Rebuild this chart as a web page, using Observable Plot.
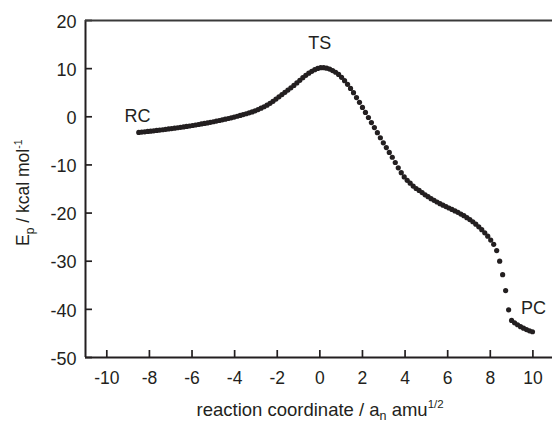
<!DOCTYPE html>
<html><head><meta charset="utf-8">
<script src="https://cdn.jsdelivr.net/npm/d3@7"></script>
<script src="https://cdn.jsdelivr.net/npm/@observablehq/plot@0.6"></script>
<style>body{margin:0;background:#fff}</style>
</head><body><div id="chart"></div>
<script>
// reaction coordinate (a_n amu^1/2)
const xs = [-8.50,-8.36,-8.22,-8.08,-7.94,-7.80,-7.66,-7.52,-7.38,-7.24,-7.10,-6.96,-6.82,-6.68,-6.54,-6.40,-6.26,-6.12,-5.98,-5.84,
-5.70,-5.56,-5.42,-5.28,-5.14,-5.00,-4.86,-4.72,-4.58,-4.44,-4.30,-4.16,-4.02,-3.88,-3.74,-3.60,-3.46,-3.32,-3.18,-3.04,
-2.90,-2.76,-2.62,-2.48,-2.34,-2.20,-2.06,-1.92,-1.78,-1.64,-1.50,-1.36,-1.22,-1.08,-0.94,-0.80,-0.66,-0.52,-0.38,-0.24,
-0.10,0.04,0.18,0.32,0.46,0.60,0.74,0.88,1.02,1.16,1.30,1.44,1.58,1.72,1.86,2.00,2.14,2.28,2.42,2.56,
2.70,2.84,2.98,3.12,3.26,3.40,3.54,3.68,3.82,3.96,4.10,4.24,4.38,4.52,4.66,4.80,4.94,5.08,5.22,5.36,
5.50,5.64,5.78,5.92,6.06,6.20,6.34,6.48,6.62,6.76,6.90,7.04,7.18,7.32,7.46,7.60,7.74,7.88,8.02,8.16,
8.30,8.44,8.58,8.72,8.86,9.00,9.14,9.28,9.42,9.56,9.70,9.84,9.98];
// potential energy Ep (kcal/mol)
const ys = [-3.25,-3.18,-3.12,-3.05,-2.98,-2.91,-2.84,-2.76,-2.69,-2.61,-2.53,-2.45,-2.37,-2.28,-2.19,-2.10,-2.01,-1.91,-1.81,-1.71,
-1.60,-1.49,-1.38,-1.27,-1.15,-1.03,-0.90,-0.77,-0.64,-0.50,-0.36,-0.21,-0.05,0.11,0.28,0.45,0.63,0.82,1.02,1.23,
1.50,1.78,2.08,2.42,2.80,3.22,3.68,4.15,4.62,5.08,5.54,6.02,6.52,7.04,7.58,8.12,8.62,9.06,9.45,9.78,
10.05,10.20,10.20,10.10,9.90,9.60,9.25,8.80,8.20,7.50,6.75,5.90,5.00,4.00,3.00,1.95,0.90,-0.15,-1.20,-2.25,
-3.30,-4.35,-5.40,-6.40,-7.40,-8.40,-9.50,-10.60,-11.60,-12.50,-13.20,-13.80,-14.40,-14.90,-15.30,-15.75,-16.20,-16.60,-17.00,-17.35,
-17.70,-18.05,-18.35,-18.65,-18.95,-19.25,-19.55,-19.85,-20.20,-20.55,-20.95,-21.35,-21.80,-22.30,-22.85,-23.45,-24.10,-24.80,-25.60,-26.50,
-27.80,-30.00,-32.80,-36.10,-40.10,-42.30,-42.80,-43.20,-43.60,-43.90,-44.20,-44.45,-44.65];

const xTicks = [-10,-8,-6,-4,-2,0,2,4,6,8,10];
const yTicks = [-50,-40,-30,-20,-10,0,10,20];
const xDomain = [-11, 10.92];
const yDomain = [-50, 20];

const labels = ["RC","TS","PC"];
const labelX = [-8.56, 0.0, 10.03];
const labelY = [0.2, 15.2, -39.8];

const points = xs.map((x, i) => ({x, y: ys[i]}));
const notes = labels.map((t, i) => ({t, x: labelX[i], y: labelY[i]}));
const ink = "#231f20";
const fmt = d => String(d);

const plot = Plot.plot({
  width: 552, height: 422,
  marginLeft: 85, marginRight: 0, marginTop: 20, marginBottom: 65,
  style: {fontFamily: "'Liberation Sans', Arial, sans-serif", background: "#fff", color: ink},
  x: {domain: xDomain},
  y: {domain: yDomain},
  marks: [
    // inward tick marks
    Plot.axisX(xTicks, {anchor: "bottom", tickSize: 7, dy: -7, fill: "none", stroke: ink, strokeWidth: 1.7, label: null}),
    Plot.axisY(yTicks, {anchor: "left", tickSize: 7, dx: 7, fill: "none", stroke: ink, strokeWidth: 1.7, label: null}),
    // tick labels
    Plot.axisX(xTicks, {anchor: "bottom", tickSize: 0, tickPadding: 14, fontSize: 17.5, tickFormat: fmt, label: null, fill: ink}),
    Plot.axisY(yTicks, {anchor: "left", tickSize: 0, tickPadding: 9, fontSize: 18, dy: 1.5, tickFormat: fmt, label: null, fill: ink}),
    // frame
    Plot.ruleX([xDomain[0]], {stroke: ink, strokeWidth: 2}),
    Plot.ruleY([yDomain[0]], {stroke: ink, strokeWidth: 2}),
    Plot.ruleY([yDomain[1]], {stroke: "#3a3a3a", strokeWidth: 1.8}),
    // IRC points
    Plot.dot(points, {x: "x", y: "y", r: 2.6, fill: ink, stroke: "none"}),
    // annotations
    Plot.text(notes, {x: "x", y: "y", text: "t", fontSize: 18, fill: ink})
  ]
});

document.getElementById("chart").appendChild(plot);

const svg = d3.select(plot);
// x-axis title
const xt = svg.append("text")
  .attr("x", 196.5).attr("y", 416)
  .attr("text-anchor", "start")
  .attr("fill", ink).attr("font-size", 18.5)
  .attr("font-family", "'Liberation Sans', Arial, sans-serif");
xt.append("tspan").text("reaction coordinate / a");
xt.append("tspan").attr("font-size", 12.5).attr("dy", 3.5).text("n");
xt.append("tspan").attr("dy", -3.5).text(" amu");
xt.append("tspan").attr("font-size", 11.5).attr("dy", -8).text("1/2");

// y-axis title
const yt = svg.append("text")
  .attr("transform", "translate(29.3,246) rotate(-90)")
  .attr("text-anchor", "start")
  .attr("fill", ink).attr("font-size", 17.5)
  .attr("font-family", "'Liberation Sans', Arial, sans-serif");
yt.append("tspan").text("E");
yt.append("tspan").attr("font-size", 12).attr("dy", 5).text("p");
yt.append("tspan").attr("dy", -5).text(" / kcal mol");
yt.append("tspan").attr("font-size", 10.5).attr("dy", -7.5).text("-1");
</script>
</body></html>
